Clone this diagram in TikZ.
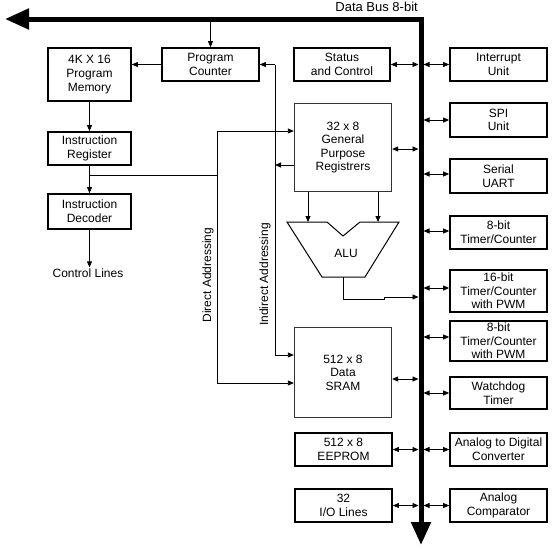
\documentclass[tikz,border=0pt]{standalone}
\usepackage{fontspec}
\setmainfont{Liberation Sans}
\usepackage{tikz}
\usetikzlibrary{arrows.meta}

\begin{document}
\begin{tikzpicture}[x=1pt, y=-1pt,
    every node/.style={font=\fontsize{12}{13.6}\selectfont, align=center, inner sep=1pt},
    blk/.style={draw, line width=1.7pt},
    reg/.style={draw=black!80, line width=1.3pt},
    arr/.style={-{Triangle[length=6pt,width=5pt]}, line width=0.8pt},
    biarr/.style={{Triangle[length=6pt,width=5pt]}-{Triangle[length=6pt,width=5pt]}, line width=0.8pt}]

            \useasboundingbox (0,0) rectangle (558,549);

            \coordinate (busleft) at (5,19);
            \coordinate (bus) at (421,19);
            \coordinate (busend) at (421,545);
            \draw [line width=5pt, {Triangle[length=24pt,width=20pt]}-{Triangle[length=23pt,width=19pt]}] (busleft) -- (bus) -- (busend);
            \node[anchor=base east, font=\fontsize{13}{15}\selectfont] at (419,11) (dbus) {Data Bus 8-bit};

            \node[blk, minimum width=83pt, minimum height=53pt] at (89.5,74.5) (pm) {4K X 16\\Program\\Memory};
            \node[blk, minimum width=97pt, minimum height=33pt] at (210.5,64.5) (pc) {Program\\Counter};
            \node[blk, minimum width=83pt, minimum height=33pt] at (89.5,148.5) (ir) {Instruction\\Register};
            \node[blk, minimum width=83pt, minimum height=35pt] at (89.5,211.5) (id) {Instruction\\Decoder};
            \node at (88,273) (ctl) {Control Lines};

            \node[blk, minimum width=96pt, minimum height=33pt] at (342,64.5) (sc) {Status\\and Control};
            \node[reg, minimum width=97pt, minimum height=88pt] at (343,147.5) (gp) {32 x 8\\General\\Purpose\\Registrers};
            \node at (346,253) (alu) {ALU};
            \node[reg, minimum width=97pt, minimum height=90pt] at (343,372.5) (sram) {512 x 8\\Data\\SRAM};
            \node[blk, minimum width=97pt, minimum height=33pt] at (343.5,449.5) (ee) {512 x 8\\EEPROM};
            \node[blk, minimum width=97pt, minimum height=33pt] at (343.5,505.5) (io) {32\\I/O Lines};

            \node[blk, minimum width=97pt, minimum height=33pt] at (498.5,64.5) (intr) {Interrupt\\Unit};
            \node[blk, minimum width=97pt, minimum height=34pt] at (498.5,120) (spi) {SPI\\Unit};
            \node[blk, minimum width=97pt, minimum height=34pt] at (498.5,176) (uart) {Serial\\UART};
            \node[blk, minimum width=97pt, minimum height=33pt] at (498.5,232.5) (tc8) {8-bit\\Timer/Counter};
            \node[blk, minimum width=97pt, minimum height=42pt] at (498.5,291) (tc16) {16-bit\\Timer/Counter\\with PWM};
            \node[blk, minimum width=97pt, minimum height=40pt] at (498.5,341) (pwm8) {8-bit\\Timer/Counter\\with PWM};
            \node[blk, minimum width=97pt, minimum height=32pt] at (498.5,393) (wdt) {Watchdog\\Timer};
            \node[blk, minimum width=97pt, minimum height=33pt] at (498.5,449.5) (adc) {Analog to Digital\\Converter};
            \node[blk, minimum width=97pt, minimum height=33pt] at (498.5,505.5) (acmp) {Analog\\Comparator};

            \draw [line width=1pt, line join=miter] (287,222) -- (327,222) -- (343,236) -- (360,222) -- (399,222) -- (365,277) -- (322,277) -- cycle;
            \coordinate (alul) at (308,222);
            \coordinate (alur) at (378,222);
            \coordinate (aluo) at (343,277);
            \coordinate (aluin) at (421,297);

            \coordinate (dir) at (217,383);
            \coordinate (ind) at (275,355);

            \draw [arr] (pc.north |- bus) -- (pc.north);
            \draw [arr] (pc.west) -- (pc.west -| pm.east);
            \draw [arr] (pm.south) -- (ir.north);
            \draw [arr] (ir.south) -- (id.north);
            \draw [arr] (id.south) -- (id.south |- ctl.north);

            \draw [line width=0.8pt] ([yshift=-10pt]ir.south) -- ([yshift=-10pt]ir.south -| dir);
            \draw [arr] ([yshift=16.5pt]gp.west -| dir) -- ([yshift=16.5pt]gp.west);
            \draw [arr] ([yshift=16.5pt]gp.west -| dir) -- (dir) -- (dir -| sram.west);
            \node[rotate=90] at (208,275) (dlbl) {Direct Addressing};

            \draw [arr] (ind |- pc.east) -- (pc.east);
            \draw [arr] (ind |- pc.east) -- (ind) -- (ind -| sram.west);
            \draw [arr] ([yshift=-17.5pt]gp.west) -- ([yshift=-17.5pt]gp.west -| ind);
            \node[rotate=90] at (265,274.5) (ilbl) {Indirect Addressing};

            \draw [arr] (alul |- gp.south) -- (alul);
            \draw [arr] (alur |- gp.south) -- (alur);
            \draw [arr, shorten >=2.5pt] (aluo) |- (384,299) |- (aluin);

            \draw [biarr, shorten >=2.5pt] (sc.east) -- (sc.east -| bus);
            \draw [biarr, shorten >=2.5pt] ([yshift=-1.5pt]gp.east) -- ([yshift=-1.5pt]gp.east -| bus);
            \draw [biarr, shorten >=2.5pt] ([yshift=-6.5pt]sram.east) -- ([yshift=-6.5pt]sram.east -| bus);
            \draw [biarr, shorten >=2.5pt] (ee.east) -- (ee.east -| bus);
            \draw [biarr, shorten >=2.5pt] (io.east) -- (io.east -| bus);

            \draw [biarr, shorten <=2.5pt] (intr.west -| bus) -- (intr.west);
            \draw [biarr, shorten <=2.5pt] (spi.west -| bus) -- (spi.west);
            \draw [biarr, shorten <=2.5pt] ([yshift=2pt]uart.west -| bus) -- ([yshift=2pt]uart.west);
            \draw [biarr, shorten <=2.5pt] ([yshift=1.5pt]tc8.west -| bus) -- ([yshift=1.5pt]tc8.west);
            \draw [biarr, shorten <=2.5pt] ([yshift=3pt]tc16.west -| bus) -- ([yshift=3pt]tc16.west);
            \draw [biarr, shorten <=2.5pt] ([yshift=4pt]pwm8.west -| bus) -- ([yshift=4pt]pwm8.west);
            \draw [biarr, shorten <=2.5pt] (wdt.west -| bus) -- (wdt.west);
            \draw [biarr, shorten <=2.5pt] (adc.west -| bus) -- (adc.west);
            \draw [biarr, shorten <=2.5pt] (acmp.west -| bus) -- (acmp.west);
        \end{tikzpicture}
\end{document}
